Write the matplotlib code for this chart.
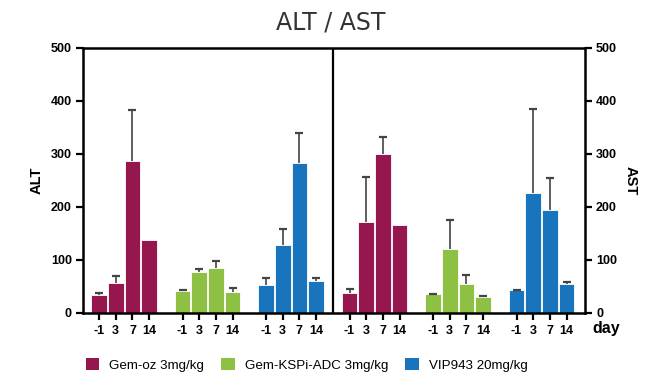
import numpy as np
import matplotlib.pyplot as plt
from matplotlib.patches import Patch

days = ['-1', '3', '7', '14']
groups = ['Gem-oz 3mg/kg', 'Gem-KSPi-ADC 3mg/kg', 'VIP943 20mg/kg']
colors = ['#95174D', '#8DC043', '#1874BD']

# mean values and upper error bar ends per group (days -1, 3, 7, 14)
alt_mean = [[33, 56, 287, 137], [41, 78, 84, 40], [52, 128, 282, 61]]
alt_top = [[38, 70, 382, 137], [44, 83, 97, 47], [66, 158, 340, 65]]
ast_mean = [[37, 172, 299, 165], [35, 121, 54, 30], [43, 227, 194, 54]]
ast_top = [[46, 256, 332, 165], [36, 176, 72, 31], [44, 385, 255, 59]]

plt.rcParams['font.family'] = ['Liberation Sans', 'DejaVu Sans']

fig = plt.figure(figsize=(6.61, 3.77), dpi=100)
ax = fig.add_axes([0.1256, 0.170, 0.7594, 0.703])

positions = []
labels = []
for panel, (means, tops) in enumerate([(alt_mean, alt_top), (ast_mean, ast_top)]):
    for g in range(3):
        x = np.arange(4) + 5 * g + 15 * panel
        m = np.array(means[g])
        t = np.array(tops[g])
        ax.bar(x, m, width=0.94, color=colors[g], edgecolor='white', linewidth=0.6, zorder=2)
        # upper-only error bars
        show = t > m
        ax.vlines(x[show], m[show], t[show], color='#444444', linewidth=1.2, zorder=3)
        ax.plot(x[show], t[show], linestyle='none', marker='_', markersize=6,
                markeredgewidth=1.6, color='#444444', zorder=3)
        positions.extend(x)
        labels.extend(days)

ax.set_xlim(-0.96, 29.1)
ax.set_ylim(0, 500)
ax.axvline(14, color='black', linewidth=1.6, zorder=4)

ax.set_xticks(positions)
ax.set_xticklabels(labels, fontsize=9, fontweight='bold')
ax.set_yticks(range(0, 501, 100))
ax.tick_params(axis='x', direction='out', length=5, width=1.6, pad=3.5)
ax.tick_params(axis='y', direction='out', length=5, width=1.6, labelsize=9,
               right=True, labelright=True, pad=3)
for lab in ax.get_yticklabels():
    lab.set_fontweight('bold')
for s in ax.spines.values():
    s.set_linewidth(1.8)

ax.text(-0.092, 0.5, 'ALT', transform=ax.transAxes, rotation=90, fontsize=10.5,
        fontweight='bold', ha='center', va='center')
ax.text(1.09, 0.5, 'AST', transform=ax.transAxes, rotation=-90, fontsize=10.5,
        fontweight='bold', ha='center', va='center')
ax.text(1.015, -0.06, 'day', transform=ax.transAxes, fontsize=11.5,
        fontweight='bold', ha='left', va='center')

fig.text(0.5, 0.94, 'ALT / AST', fontsize=17, color='#333333', ha='center', va='center',
         family=['DejaVu Sans'])

handles = [Patch(facecolor=c, label=l) for c, l in zip(colors, groups)]
fig.legend(handles=handles, loc='center', bbox_to_anchor=(0.464, 0.032), ncol=3,
           frameon=False, fontsize=9.6, handlelength=1.0, handleheight=1.0,
           columnspacing=1.3, handletextpad=0.75)

fig.savefig('out.png', dpi=100)
